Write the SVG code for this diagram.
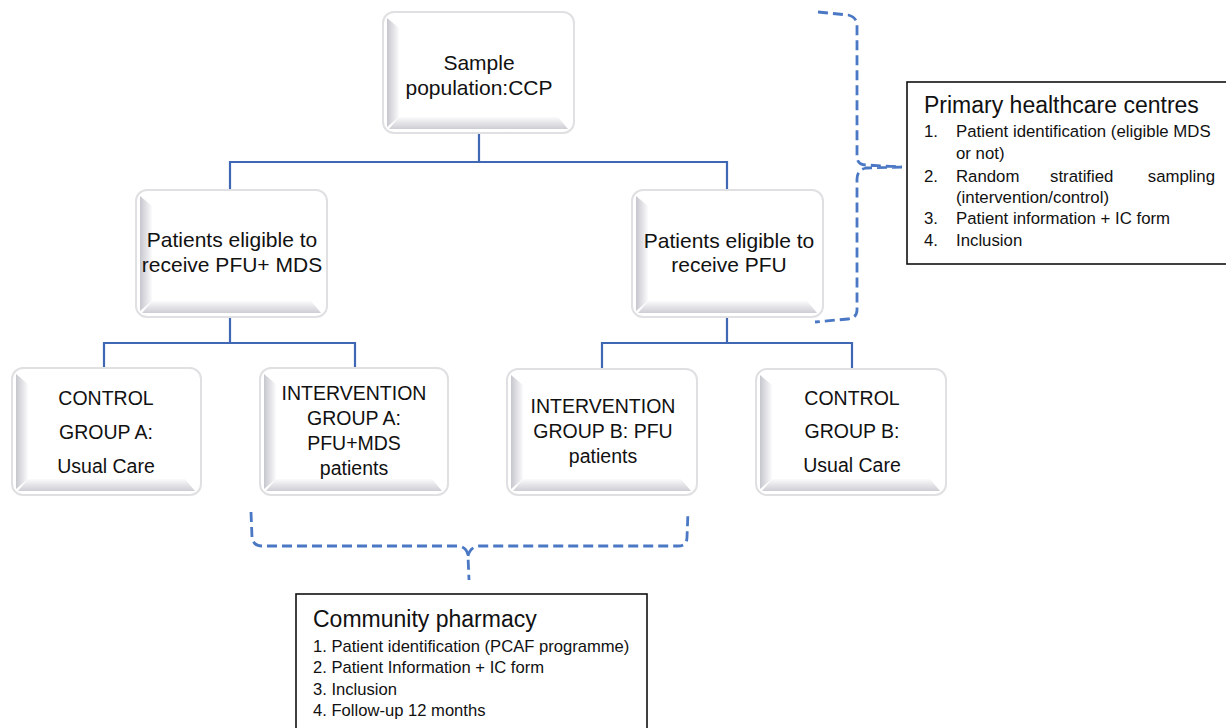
<svg xmlns="http://www.w3.org/2000/svg" width="1226" height="728" viewBox="0 0 1226 728">
<style>
.box{fill:#fff;stroke:#e0e0e3;stroke-width:2}
.bl{fill:url(#gl)}
.bb{fill:url(#gb)}
.t{font-family:"Liberation Sans",Arial,sans-serif;font-size:21px;fill:#111;text-anchor:middle}
.s{font-size:19.5px}
.con{fill:none;stroke:#3f67b4;stroke-width:2.2}
.brace{fill:none;stroke:#4a78c4;stroke-width:2.8;stroke-dasharray:10,5}
.panel{fill:#fff;stroke:#111;stroke-width:1.6}
.h{font-family:"Liberation Sans",Arial,sans-serif;font-size:23px;fill:#111}
.l{font-family:"Liberation Sans",Arial,sans-serif;font-size:16.8px;fill:#111}
.m{font-family:"Liberation Sans",Arial,sans-serif;font-size:16.6px;fill:#111}
</style>
<defs>
<linearGradient id="gl" x1="0" y1="0" x2="1" y2="0"><stop offset="0" stop-color="#c6c6ce"/><stop offset="1" stop-color="#fbfbfc"/></linearGradient>
<linearGradient id="gb" x1="0" y1="0" x2="0" y2="1"><stop offset="0" stop-color="#fbfbfc"/><stop offset="1" stop-color="#cdcdd4"/></linearGradient>
</defs>
<rect width="1226" height="728" fill="#fff"/>
<g id="connectors">
<path class="con" d="M479,133 V162 M230,162 H727 M230,161 V190 M727,161 V190"/>
<path class="con" d="M230,317 V343 M104,343 H355 M104,342 V368 M355,342 V368"/>
<path class="con" d="M727,317 V343 M602,343 H852 M602,342 V369 M852,342 V369"/>
<path class="brace" d="M818,12 L848,15 Q857,17 857,26 L857,156 Q857,165 866,165 L902,167 M902,167 L866,168 Q857,170 857,179 L857,310 Q857,318 848,319 L815,322"/>
<path class="brace" d="M251,512 L252,537 Q253,546 262,546 L458,546 Q467,547 468,556 L469,580 M468,556 Q470,547 479,546 L678,546 Q687,546 687,537 L688,512"/>
</g>
<g id="n-sample">
<rect class="box" x="383" y="12" width="191" height="121" rx="11"/>
<polygon class="bl" points="387,18 399,28 399,117 387,127"/>
<polygon class="bb" points="389,129 399,117 558,117 568,129"/>
<text class="t" x="479" y="70">Sample</text>
<text class="t" x="479" y="95">population:CCP</text>
</g>
<g id="n-eligible-mds">
<rect class="box" x="136" y="190" width="191" height="127" rx="11"/>
<polygon class="bl" points="140,196 152,206 152,301 140,311"/>
<polygon class="bb" points="142,313 152,301 311,301 321,313"/>
<text class="t" x="232" y="247">Patients eligible to</text>
<text class="t" x="232" y="272">receive  PFU+ MDS</text>
</g>
<g id="n-eligible-pfu">
<rect class="box" x="632" y="190" width="191" height="127" rx="11"/>
<polygon class="bl" points="636,196 648,206 648,301 636,311"/>
<polygon class="bb" points="638,313 648,301 807,301 817,313"/>
<text class="t" x="729" y="248">Patients eligible to</text>
<text class="t" x="729" y="272">receive  PFU</text>
</g>
<g id="n-control-a">
<rect class="box" x="12" y="368" width="189" height="127" rx="11"/>
<polygon class="bl" points="16,374 28,384 28,479 16,489"/>
<polygon class="bb" points="18,491 28,479 185,479 195,491"/>
<text class="t s" x="106" y="405">CONTROL</text>
<text class="t s" x="106" y="439">GROUP A:</text>
<text class="t s" x="106" y="473">Usual Care</text>
</g>
<g id="n-intervention-a">
<rect class="box" x="260" y="368" width="188" height="127" rx="11"/>
<polygon class="bl" points="264,374 276,384 276,479 264,489"/>
<polygon class="bb" points="266,491 276,479 432,479 442,491"/>
<text class="t s" x="354" y="400">INTERVENTION</text>
<text class="t s" x="354" y="425">GROUP  A:</text>
<text class="t s" x="354" y="450">PFU+MDS</text>
<text class="t s" x="354" y="475">patients</text>
</g>
<g id="n-intervention-b">
<rect class="box" x="507" y="369" width="190" height="126" rx="11"/>
<polygon class="bl" points="511,375 523,385 523,479 511,489"/>
<polygon class="bb" points="513,491 523,479 681,479 691,491"/>
<text class="t s" x="603" y="413">INTERVENTION</text>
<text class="t s" x="603" y="438">GROUP B:  PFU</text>
<text class="t s" x="603" y="463">patients</text>
</g>
<g id="n-control-b">
<rect class="box" x="756" y="369" width="190" height="126" rx="11"/>
<polygon class="bl" points="760,375 772,385 772,479 760,489"/>
<polygon class="bb" points="762,491 772,479 930,479 940,491"/>
<text class="t s" x="852" y="405">CONTROL</text>
<text class="t s" x="852" y="438">GROUP B:</text>
<text class="t s" x="852" y="472">Usual Care</text>
</g>
<g id="n-primary">
<rect class="panel" x="907" y="82" width="330" height="182"/>
<text class="h" x="924" y="113">Primary healthcare centres</text>
<text class="l" x="924" y="137">1.</text><text class="l" x="956" y="137">Patient identification (eligible MDS</text>
<text class="l" x="956" y="159">or not)</text>
<text class="l" x="924" y="182">2.</text><text class="l" x="956" y="182">Random</text><text class="l" x="1050" y="182">stratified</text><text class="l" x="1215" y="182" text-anchor="end">sampling</text>
<text class="l" x="956" y="203">(intervention/control)</text>
<text class="l" x="924" y="224">3.</text><text class="l" x="956" y="224">Patient information + IC form</text>
<text class="l" x="924" y="246">4.</text><text class="l" x="956" y="246">Inclusion</text>
</g>
<g id="n-pharmacy">
<rect class="panel" x="296" y="594" width="351" height="150"/>
<text class="h" x="313" y="627">Community pharmacy</text>
<text class="m" x="313" y="652">1. Patient identification (PCAF programme)</text>
<text class="m" x="313" y="673">2. Patient Information + IC form</text>
<text class="m" x="313" y="695">3. Inclusion</text>
<text class="m" x="313" y="716">4. Follow-up 12 months</text>
</g>
</svg>
